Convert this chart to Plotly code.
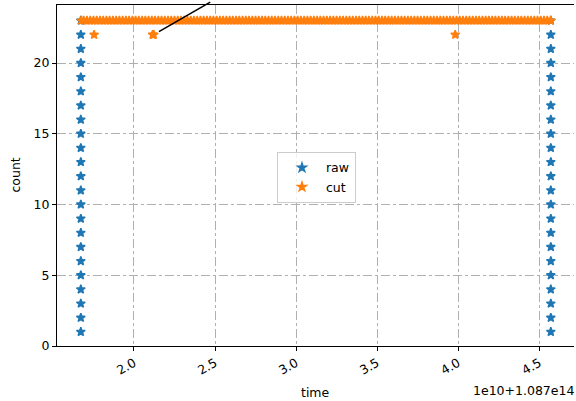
import plotly.graph_objects as go

# ---- data (time axis in units of 1e10, offset 1.087e14) ----
raw_t = [1.672] * 23 + [4.572] * 23
raw_count = list(range(1, 24)) + list(range(1, 24))

cut_t_band = [1.675,
              1.69, 1.71, 1.73, 1.75, 1.77, 1.79, 1.81, 1.83, 1.85, 1.87,
              1.89, 1.91, 1.93, 1.95, 1.97, 1.99, 2.01, 2.03, 2.05, 2.07,
              2.09, 2.11, 2.13, 2.15, 2.17, 2.19, 2.21, 2.23, 2.25, 2.27,
              2.29, 2.31, 2.33, 2.35, 2.37, 2.39, 2.41, 2.43, 2.45, 2.47,
              2.49, 2.51, 2.53, 2.55, 2.57, 2.59, 2.61, 2.63, 2.65, 2.67,
              2.69, 2.71, 2.73, 2.75, 2.77, 2.79, 2.81, 2.83, 2.85, 2.87,
              2.89, 2.91, 2.93, 2.95, 2.97, 2.99, 3.01, 3.03, 3.05, 3.07,
              3.09, 3.11, 3.13, 3.15, 3.17, 3.19, 3.21, 3.23, 3.25, 3.27,
              3.29, 3.31, 3.33, 3.35, 3.37, 3.39, 3.41, 3.43, 3.45, 3.47,
              3.49, 3.51, 3.53, 3.55, 3.57, 3.59, 3.61, 3.63, 3.65, 3.67,
              3.69, 3.71, 3.73, 3.75, 3.77, 3.79, 3.81, 3.83, 3.85, 3.87,
              3.89, 3.91, 3.93, 3.95, 3.97, 3.99, 4.01, 4.03, 4.05, 4.07,
              4.09, 4.11, 4.13, 4.15, 4.17, 4.19, 4.21, 4.23, 4.25, 4.27,
              4.29, 4.31, 4.33, 4.35, 4.37, 4.39, 4.41, 4.43, 4.45, 4.47,
              4.49, 4.51, 4.53, 4.55, 4.572]
cut_t_low = [1.754, 2.115, 2.122, 3.982]
cut_t = cut_t_band + cut_t_low
cut_count = [23] * len(cut_t_band) + [22] * len(cut_t_low)

annot_point = (2.122, 22)

x_ticks = [2.0, 2.5, 3.0, 3.5, 4.0, 4.5]
x_tick_labels = ["2.0", "2.5", "3.0", "3.5", "4.0", "4.5"]
y_ticks = [0, 5, 10, 15, 20]
y_tick_labels = ["0", "5", "10", "15", "20"]

BLUE = "#1f77b4"
ORANGE = "#ff7f0e"
FONT = "DejaVu Sans"

fig = go.Figure()
fig.add_trace(go.Scatter(x=raw_t, y=raw_count, mode="markers", name="raw",
                         marker=dict(symbol="star", size=6.5, color=BLUE,
                                     line=dict(color=BLUE, width=1.5))))
fig.add_trace(go.Scatter(x=cut_t, y=cut_count, mode="markers", name="cut",
                         marker=dict(symbol="star", size=6.5, color=ORANGE,
                                     line=dict(color=ORANGE, width=1.5))))

fig.add_annotation(x=annot_point[0], y=annot_point[1], xref="x", yref="y",
                   text=" ", showarrow=True, arrowhead=0, arrowwidth=1.5,
                   arrowcolor="black", ax=60, ay=-50, standoff=6)

fig.add_annotation(text="time", xref="paper", yref="paper", x=0.5, y=0,
                   xanchor="center", yanchor="top", yshift=-37, showarrow=False,
                   font=dict(family=FONT, size=12.5, color="black"))
fig.add_annotation(text="1e10+1.087e14", xref="paper", yref="paper", x=1.0, y=0,
                   xanchor="right", yanchor="top", yshift=-35, xshift=2, showarrow=False,
                   font=dict(family=FONT, size=12.5, color="black"))
fig.add_annotation(text="count", xref="paper", yref="paper", x=0, y=0.5,
                   xanchor="center", yanchor="middle", xshift=-42, textangle=-90,
                   showarrow=False, font=dict(family=FONT, size=12.5, color="black"))

fig.update_layout(
    width=576, height=401,
    margin=dict(l=57, r=2, t=5, b=55, autoexpand=False),
    paper_bgcolor="white", plot_bgcolor="white",
    font=dict(family=FONT, size=12.5, color="black"),
    showlegend=True,
    legend=dict(x=0.4255, y=0.569, xanchor="left", yanchor="top", itemwidth=38,
                bgcolor="rgba(255,255,255,0.8)", bordercolor="#cccccc", borderwidth=1,
                font=dict(family=FONT, size=12.5, color="black")),
    xaxis=dict(range=[1.525, 4.715], tickvals=x_ticks, ticktext=x_tick_labels,
               tickangle=-30, showgrid=True, gridcolor="#b0b0b0", griddash="dashdot",
               gridwidth=1, showline=True, linecolor="black", linewidth=1, mirror=True,
               ticks="outside", ticklen=4, tickwidth=1, tickcolor="black",
               zeroline=False, automargin=False),
    yaxis=dict(range=[0, 24.1], tickvals=y_ticks, ticktext=y_tick_labels,
               showgrid=True, gridcolor="#b0b0b0", griddash="dashdot", gridwidth=1,
               showline=True, linecolor="black", linewidth=1,
               ticks="outside", ticklen=4, tickwidth=1, tickcolor="black",
               zeroline=False, automargin=False),
)

fig.write_html("out.html", config={"displayModeBar": False},
               post_script="document.body.style.margin='0';")
